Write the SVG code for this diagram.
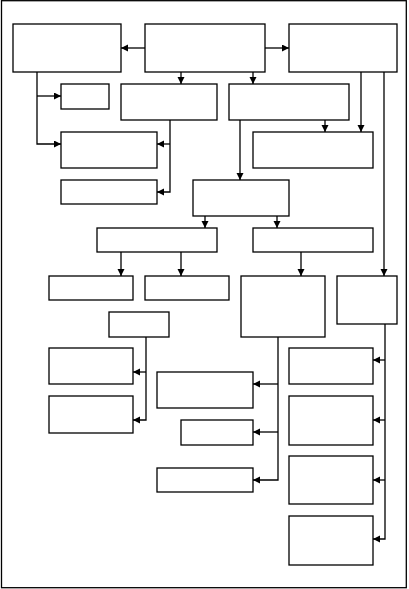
<svg xmlns="http://www.w3.org/2000/svg" width="409" height="589" viewBox="0 0 409 589">
<style>
.n{fill:#fff;stroke:#000;stroke-width:1.3}
.c{fill:none;stroke:#000;stroke-width:1.3}
</style>
<defs>
<marker id="ah" markerUnits="userSpaceOnUse" markerWidth="8" markerHeight="8" refX="7" refY="3.5" orient="auto">
<path d="M0,0 L7,3.5 L0,7 z" fill="#000"/>
</marker>
</defs>
<rect x="1.5" y="0.7" width="404.8" height="587" fill="#fff" stroke="#000" stroke-width="1.3"/>
<g id="nodes">
<g id="A"><rect class="n" x="13" y="24" width="108" height="48"/></g>
<g id="B"><rect class="n" x="145" y="24" width="120" height="48"/></g>
<g id="C"><rect class="n" x="289" y="24" width="108" height="48"/></g>
<g id="D"><rect class="n" x="61" y="84" width="48" height="25"/></g>
<g id="E"><rect class="n" x="121" y="84" width="96" height="36"/></g>
<g id="F"><rect class="n" x="229" y="84" width="120" height="36"/></g>
<g id="G"><rect class="n" x="61" y="132" width="96" height="36"/></g>
<g id="L"><rect class="n" x="253" y="132" width="120" height="36"/></g>
<g id="H"><rect class="n" x="61" y="180" width="96" height="24"/></g>
<g id="I"><rect class="n" x="193" y="180" width="96" height="36"/></g>
<g id="J"><rect class="n" x="97" y="228" width="120" height="24"/></g>
<g id="K"><rect class="n" x="253" y="228" width="120" height="24"/></g>
<g id="M"><rect class="n" x="49" y="276" width="84" height="24"/></g>
<g id="N"><rect class="n" x="145" y="276" width="84" height="24"/></g>
<g id="O"><rect class="n" x="241" y="276" width="84" height="61"/></g>
<g id="P"><rect class="n" x="337" y="276" width="60" height="48"/></g>
<g id="Q"><rect class="n" x="109" y="312" width="60" height="25"/></g>
<g id="R"><rect class="n" x="49" y="348" width="84" height="36"/></g>
<g id="W"><rect class="n" x="289" y="348" width="84" height="36"/></g>
<g id="T"><rect class="n" x="157" y="372" width="96" height="36"/></g>
<g id="S"><rect class="n" x="49" y="396" width="84" height="37"/></g>
<g id="X"><rect class="n" x="289" y="396" width="84" height="49"/></g>
<g id="U"><rect class="n" x="181" y="420" width="72" height="25"/></g>
<g id="Y"><rect class="n" x="289" y="456" width="84" height="48"/></g>
<g id="V"><rect class="n" x="157" y="468" width="96" height="24"/></g>
<g id="Z"><rect class="n" x="289" y="516" width="84" height="49"/></g>
</g>
<g id="connectors">
<path class="c" d="M145,48 H121" marker-end="url(#ah)"/>
<path class="c" d="M265,48 H289" marker-end="url(#ah)"/>
<path class="c" d="M181,72 V84" marker-end="url(#ah)"/>
<path class="c" d="M253,72 V84" marker-end="url(#ah)"/>
<path class="c" d="M37,72 V144 H61" marker-end="url(#ah)"/>
<path class="c" d="M37,96 H61" marker-end="url(#ah)"/>
<path class="c" d="M170,120 V192 H157" marker-end="url(#ah)"/>
<path class="c" d="M170,144 H157" marker-end="url(#ah)"/>
<path class="c" d="M240,120 V180" marker-end="url(#ah)"/>
<path class="c" d="M325,120 V132" marker-end="url(#ah)"/>
<path class="c" d="M361,72 V132" marker-end="url(#ah)"/>
<path class="c" d="M384,72 V276" marker-end="url(#ah)"/>
<path class="c" d="M205,216 V228" marker-end="url(#ah)"/>
<path class="c" d="M277,216 V228" marker-end="url(#ah)"/>
<path class="c" d="M121,252 V276" marker-end="url(#ah)"/>
<path class="c" d="M181,252 V276" marker-end="url(#ah)"/>
<path class="c" d="M301,252 V276" marker-end="url(#ah)"/>
<path class="c" d="M146,337 V420 H133" marker-end="url(#ah)"/>
<path class="c" d="M146,372 H133" marker-end="url(#ah)"/>
<path class="c" d="M278,337 V480 H253" marker-end="url(#ah)"/>
<path class="c" d="M278,384 H253" marker-end="url(#ah)"/>
<path class="c" d="M278,432 H253" marker-end="url(#ah)"/>
<path class="c" d="M385,324 V539 H373" marker-end="url(#ah)"/>
<path class="c" d="M385,360 H373" marker-end="url(#ah)"/>
<path class="c" d="M385,420 H373" marker-end="url(#ah)"/>
<path class="c" d="M385,480 H373" marker-end="url(#ah)"/>
</g>
</svg>
